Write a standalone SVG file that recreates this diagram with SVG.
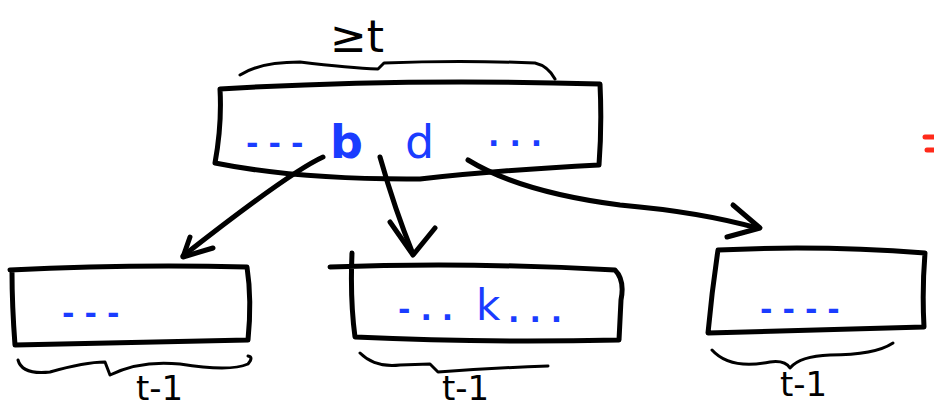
<svg xmlns="http://www.w3.org/2000/svg" width="934" height="408" viewBox="0 0 934 408">
<style>
.box{fill:none;stroke:#000;stroke-width:5;stroke-linecap:round;stroke-linejoin:round}
.brace{fill:none;stroke:#000;stroke-width:3;stroke-linecap:round;stroke-linejoin:round}
.arr{fill:none;stroke:#000;stroke-width:5;stroke-linecap:round;stroke-linejoin:round}
.blue{fill:#1a3cff;font-family:"DejaVu Sans",sans-serif}
.dash{fill:#1a3cff;font-family:"DejaVu Sans",sans-serif;font-weight:bold;font-size:30px;letter-spacing:10px}
.lbl{fill:#000;font-family:"DejaVu Sans",sans-serif}
</style>
<rect width="934" height="408" fill="#fff"/>
<g id="top">
<path class="box" d="M220 89 Q400 78 600 84 Q602 125 599 165 Q500 170 420 179 Q300 180 215 163 Q222 125 220 89"/>
<path class="brace" d="M240 75 Q260 62 300 62 Q350 68 378 69 L384 63 Q460 60 535 63 Q548 66 555 79"/>
<text class="lbl" x="330" y="52" font-size="44">≥t</text>
<text class="dash" x="246" y="154">---</text>
<text class="blue" x="330" y="158" font-size="46" font-weight="bold">b</text>
<text class="blue" x="405" y="158" font-size="46">d</text>
<text class="dash" x="488" y="146">...</text>
</g>
<g id="left">
<path class="box" d="M10 270 Q130 264 247 267 Q252 300 248 340 Q130 343 15 345 Q12 305 12 272"/>
<path class="brace" d="M18 360 Q22 375 50 372 Q85 362 105 362 L110 375 Q140 360 180 364 Q230 372 248 364 Q254 357 248 356"/>
<text class="dash" x="62" y="324">---</text>
<text class="lbl" x="136" y="400" font-size="34">t-1</text>
</g>
<g id="mid">
<path class="box" d="M330 267 Q470 262 615 270 Q625 280 621 300 L619 340 Q480 343 355 337 Q350 300 352 253"/>
<path class="brace" d="M360 353 Q375 368 400 365 L430 364 L438 372 Q490 368 548 366"/>
<text class="dash" x="398" y="320">-..</text>
<text class="blue" x="476" y="320" font-size="42">k</text>
<text class="dash" x="508" y="322">...</text>
<text class="lbl" x="442" y="400" font-size="34">t-1</text>
</g>
<g id="right">
<path class="box" d="M718 250 Q820 245 925 253 Q922 290 924 327 Q820 330 708 333 Q712 290 718 250"/>
<path class="brace" d="M712 350 Q730 370 770 362 Q785 360 790 368 Q800 356 830 355 Q875 355 893 343"/>
<text class="dash" x="760" y="320">----</text>
<text class="lbl" x="780" y="396" font-size="34">t-1</text>
</g>
<g id="connectors">
<path class="arr" d="M323 157 Q290 172 183 256"/>
<path class="arr" d="M190 237 L183 257 L213 248"/>
<path class="arr" d="M380 157 Q395 210 413 254"/>
<path class="arr" d="M390 222 L413 255 L435 228"/>
<path class="arr" d="M468 160 Q520 192 620 205 Q700 212 757 228"/>
<path class="arr" d="M733 205 L760 228 L727 237"/>
</g>
<g id="red" stroke="#ff2a1a" stroke-width="5" stroke-linecap="round">
<line x1="925" y1="137" x2="934" y2="137"/>
<line x1="927" y1="150" x2="934" y2="150"/>
</g>
</svg>
